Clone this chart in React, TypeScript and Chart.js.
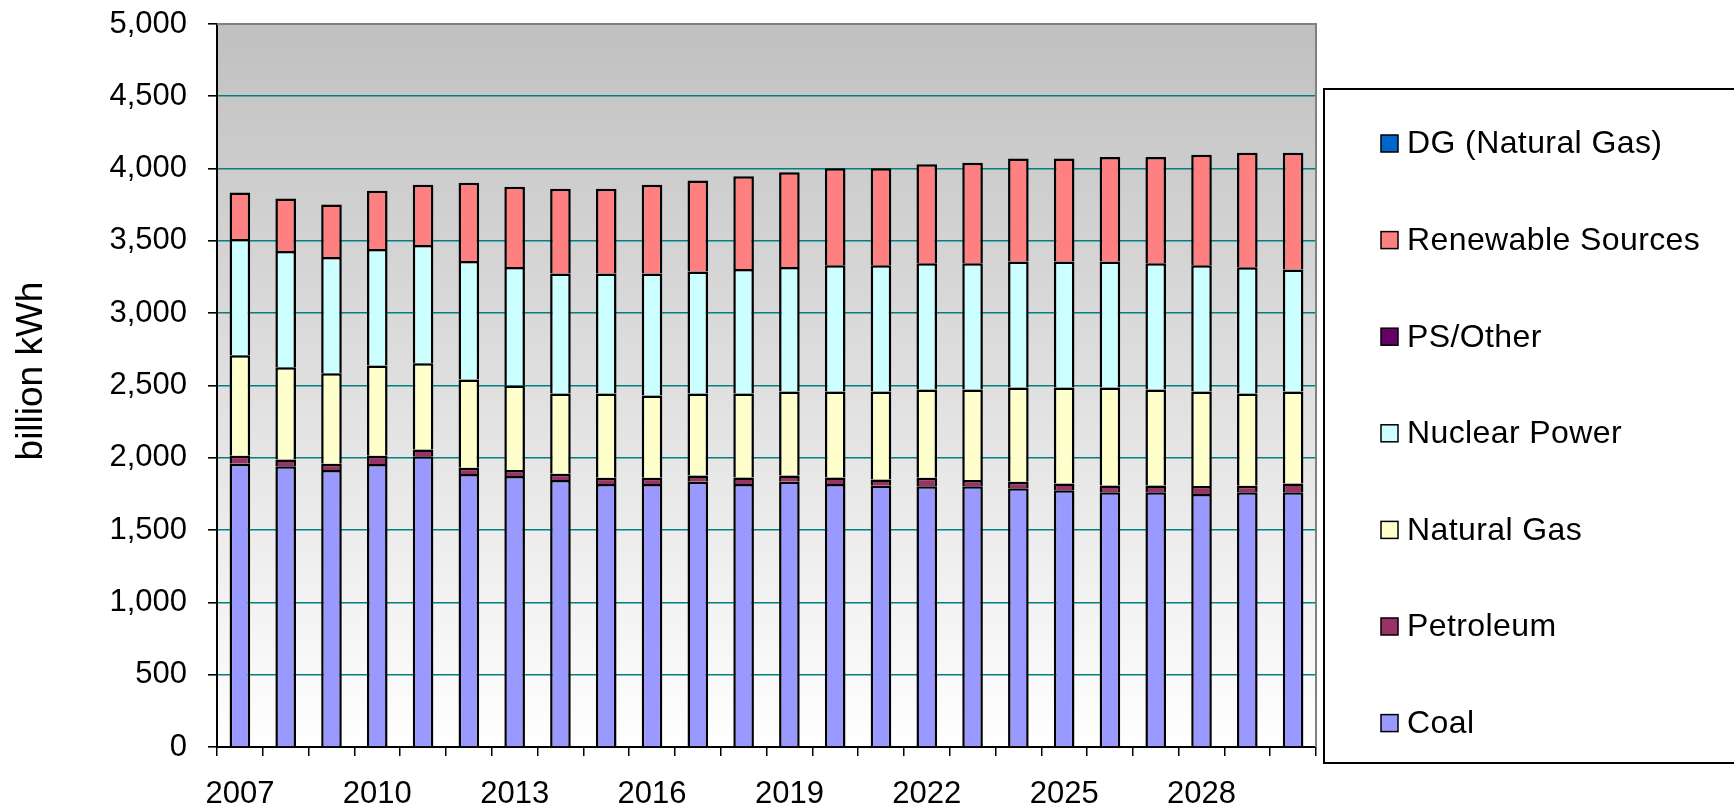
import React, { useEffect, useRef } from "react";
import { Chart, registerables } from "chart.js";

Chart.register(...registerables);

const years = [
  "2007", "2008", "2009", "2010", "2011", "2012", "2013", "2014", "2015", "2016", "2017", "2018",
  "2019", "2020", "2021", "2022", "2023", "2024", "2025", "2026", "2027", "2028", "2029", "2030",
];
const labeledYears = ["2007", "2010", "2013", "2016", "2019", "2022", "2025", "2028"];

const coal = [1958, 1942, 1915, 1957, 2010, 1888, 1874, 1846, 1818, 1818, 1834, 1818, 1834, 1818, 1806, 1804, 1804, 1790, 1776, 1762, 1762, 1749, 1762, 1762];
const petroleum = [57, 46, 43, 58, 47, 44, 42, 43, 44, 44, 43, 45, 43, 45, 44, 58, 43, 44, 46, 46, 46, 56, 45, 60];
const naturalGas = [695, 638, 627, 623, 597, 610, 584, 555, 582, 568, 567, 581, 581, 595, 608, 610, 625, 652, 664, 678, 664, 653, 637, 636];
const nuclear = [803, 804, 804, 806, 818, 819, 819, 831, 831, 845, 845, 861, 861, 874, 874, 873, 873, 872, 872, 872, 873, 874, 873, 845];
const psOther = [0, 0, 0, 0, 0, 0, 0, 0, 0, 0, 0, 0, 0, 0, 0, 0, 0, 0, 0, 0, 0, 0, 0, 0];
const renewable = [322, 364, 363, 403, 417, 542, 556, 586, 586, 614, 629, 642, 655, 670, 670, 685, 696, 711, 711, 722, 735, 764, 793, 807];
const dgNaturalGas = [0, 0, 0, 0, 0, 0, 0, 0, 0, 0, 0, 0, 0, 0, 0, 0, 0, 0, 0, 0, 0, 0, 0, 0];

const seriesNames = ["Coal", "Petroleum", "Natural Gas", "Nuclear Power", "PS/Other", "Renewable Sources", "DG (Natural Gas)"];
const seriesData = [coal, petroleum, naturalGas, nuclear, psOther, renewable, dgNaturalGas];
const seriesColors = ["#9999FF", "#993366", "#FFFFCC", "#CCFFFF", "#660066", "#FF8080", "#0066CC"];

const yTicks = [0, 500, 1000, 1500, 2000, 2500, 3000, 3500, 4000, 4500, 5000];
const yTitle = "billion kWh";

const FONT = "'Liberation Sans', Arial, sans-serif";

const decorPlugin = {
  id: "decor",
  beforeDraw(chart: any) {
    const { ctx, chartArea } = chart;
    const { left, right, top, bottom } = chartArea;
    ctx.save();
    ctx.fillStyle = "#ffffff";
    ctx.fillRect(0, 0, chart.width, chart.height);
    const g = ctx.createLinearGradient(0, top, 0, bottom);
    g.addColorStop(0, "#C0C0C0");
    g.addColorStop(1, "#FFFFFF");
    ctx.fillStyle = g;
    ctx.fillRect(left, top, right - left, bottom - top);
    ctx.restore();
  },
  afterDraw(chart: any) {
    const { ctx, chartArea } = chart;
    const { left, right, top, bottom } = chartArea;
    ctx.save();
    ctx.strokeStyle = "#808080";
    ctx.lineWidth = 2;
    ctx.beginPath();
    ctx.moveTo(left, top);
    ctx.lineTo(right, top);
    ctx.lineTo(right, bottom);
    ctx.stroke();

    ctx.fillStyle = "#000";
    ctx.font = `37px ${FONT}`;
    ctx.translate(42, 371);
    ctx.rotate(-Math.PI / 2);
    ctx.textAlign = "center";
    ctx.textBaseline = "alphabetic";
    ctx.fillText(yTitle, 0, 0);
    ctx.restore();

    ctx.save();
    ctx.strokeStyle = "#000";
    ctx.lineWidth = 2;
    ctx.strokeRect(1324, 89, 440, 674);
    ctx.font = `32px ${FONT}`;
    try { (ctx as any).letterSpacing = "0.4px"; } catch (e) {}
    ctx.textBaseline = "middle";
    ctx.textAlign = "left";
    const order = [6, 5, 4, 3, 2, 1, 0];
    order.forEach((si, i) => {
      const cy = 143.5 + i * 96.6;
      ctx.fillStyle = seriesColors[si];
      ctx.fillRect(1381, cy - 8.5, 17, 17);
      ctx.strokeStyle = "#000";
      ctx.lineWidth = 1.5;
      ctx.strokeRect(1381, cy - 8.5, 17, 17);
      ctx.fillStyle = "#000";
      ctx.fillText(seriesNames[si], 1407, cy + 1);
    });
    ctx.restore();
  },
};

export default function App() {
  const canvasRef = useRef<HTMLCanvasElement | null>(null);

  useEffect(() => {
    document.body.style.margin = "0";
    document.body.style.overflow = "hidden";
    const canvas = canvasRef.current;
    if (!canvas) return;
    const chart = new Chart(canvas, {
      type: "bar",
      data: {
        labels: years,
        datasets: seriesNames.map((name, i) => ({
          label: name,
          data: seriesData[i],
          backgroundColor: seriesColors[i],
          borderColor: "#000000",
          borderWidth: 2.5,
          categoryPercentage: 1,
          barPercentage: 0.45,
        })),
      },
      options: {
        responsive: false,
        animation: false,
        devicePixelRatio: 1,
        layout: { padding: { top: 24, right: 418, bottom: 0, left: 0 } },
        plugins: {
          legend: { display: false },
          tooltip: { enabled: false },
          title: { display: false },
        },
        scales: {
          x: {
            stacked: true,
            grid: {
              display: true,
              drawOnChartArea: false,
              drawTicks: true,
              tickLength: 9,
              tickColor: "#000",
              lineWidth: 1.5,
              offset: true,
            },
            border: { display: true, color: "#000", width: 2 },
            ticks: {
              autoSkip: false,
              maxRotation: 0,
              minRotation: 0,
              padding: 20,
              color: "#000",
              font: { family: FONT, size: 31 },
              callback: function (_v: any, idx: number) {
                const y = years[idx];
                return labeledYears.includes(y) ? y : "";
              },
            },
            afterFit: (scale: any) => {
              scale.height = 63;
              scale.paddingLeft = 0;
              scale.paddingRight = 0;
            },
          },
          y: {
            stacked: true,
            min: 0,
            max: 5000,
            afterBuildTicks: (scale: any) => {
              scale.ticks = yTicks.map((v) => ({ value: v }));
            },
            grid: {
              color: (c: any) => (c.tick && (c.tick.value === 0 || c.tick.value === 5000) ? "rgba(0,0,0,0)" : "#008080"),
              lineWidth: 1.6,
              tickColor: "#000",
              tickLength: 9,
              drawTicks: true,
            },
            border: { display: true, color: "#000", width: 2 },
            ticks: {
              padding: 21,
              color: "#000",
              font: { family: FONT, size: 31 },
              callback: (v: any) => Number(v).toLocaleString("en-US"),
            },
            afterFit: (scale: any) => {
              scale.width = 217;
              scale.paddingTop = 0;
              scale.paddingBottom = 0;
            },
          },
        },
      },
      plugins: [decorPlugin],
    });
    return () => chart.destroy();
  }, []);

  return (
    <div style={{ width: 1734, height: 810, position: "relative", overflow: "hidden" }}>
      <canvas ref={canvasRef} width={1734} height={810} style={{ display: "block" }} />
    </div>
  );
}
